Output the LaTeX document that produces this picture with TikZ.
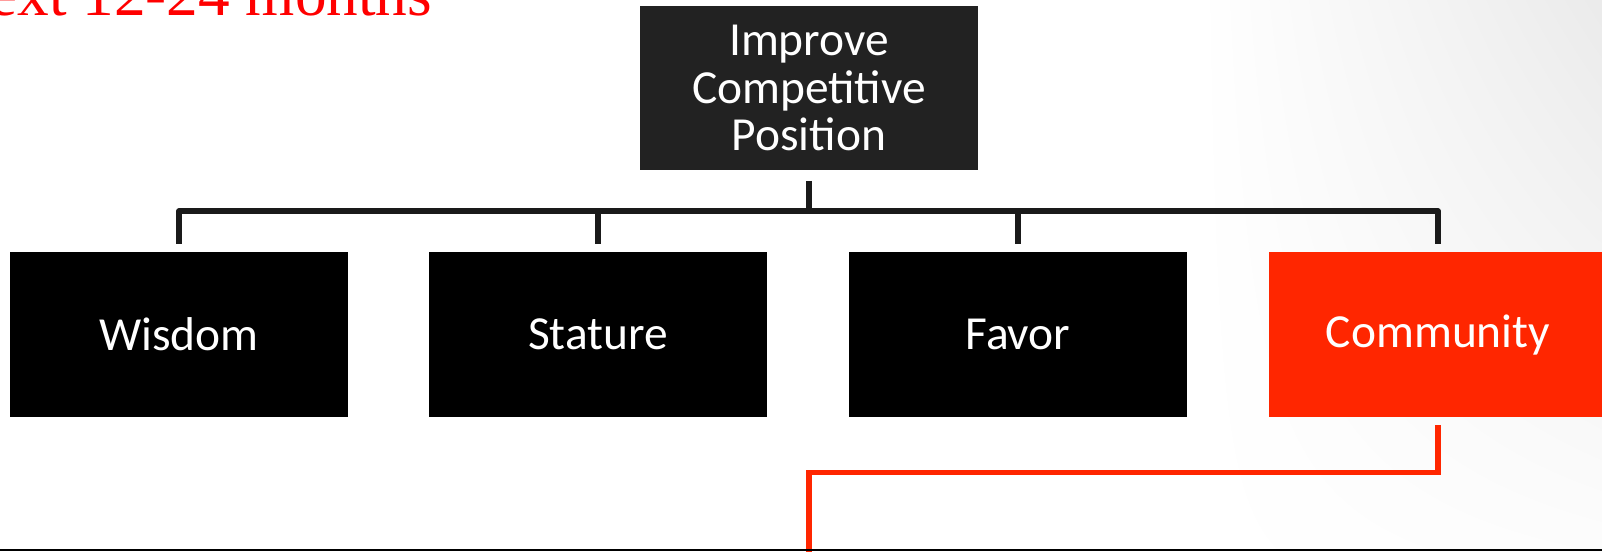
\documentclass[tikz,border=0pt]{standalone}
\usepackage{fontspec}
\setmainfont{Carlito}
\newfontfamily\periodfont{Liberation Serif}
\usepackage{tikz}
\usetikzlibrary{positioning,calc,shadings}
\definecolor{goalgray}{RGB}{34,34,34}
\definecolor{commred}{RGB}{255,38,0}
\definecolor{linegray}{RGB}{26,26,26}

\begin{document}
\begin{tikzpicture}[x=0.02cm,y=-0.02cm,
    conn/.style={draw=linegray,line width=3pt,line join=round},
    redconn/.style={draw=commred,line width=3pt}]
    \useasboundingbox (0,0) rectangle (1602,551);
    \clip (0,0) rectangle (1602,551);
    \shade[upper left=white,upper right=black!8,lower left=white,lower right=black!1] (1200,0) rectangle (1602,551);
    \node[anchor=base west,text=red,inner sep=0pt,font=\periodfont\fontsize{36}{40}\selectfont] (period) at (-11,15) {ext 12-24 months};

    \tikzset{every node/.style={rectangle,inner sep=0pt,minimum width=6.76cm,minimum height=3.3cm,
            text=white,align=center,font=\fontsize{27}{27.2}\selectfont}}
    \node[fill=goalgray] at (809,88)    (goal) {Improve\\Competitive\\Position};
    \node[fill=black]    at (179,334.5) (wis)  {Wisdom};
    \node[fill=black]    at (598,334.5) (sta)  {Stature};
    \node[fill=black]    at (1018,334.5) (fav) {Favor};
    \node[fill=commred]  at (1438,334.5) (comm) {Community};

    \coordinate (hub) at (809,211);
    \coordinate (exit) at (809,580);
    \draw[conn,shorten <=0.2cm] (goal.south) -- (hub);
    \foreach \n in {wis,sta,fav,comm}
        \draw[conn,shorten >=0.16cm] (hub) -| (\n.north);
    \draw[redconn,shorten <=0.16cm] (comm.south) -- ++(0,55) -| (exit);

    \draw[black,line width=1.2pt] (0,550) -- (1602,550);
\end{tikzpicture}
\end{document}
